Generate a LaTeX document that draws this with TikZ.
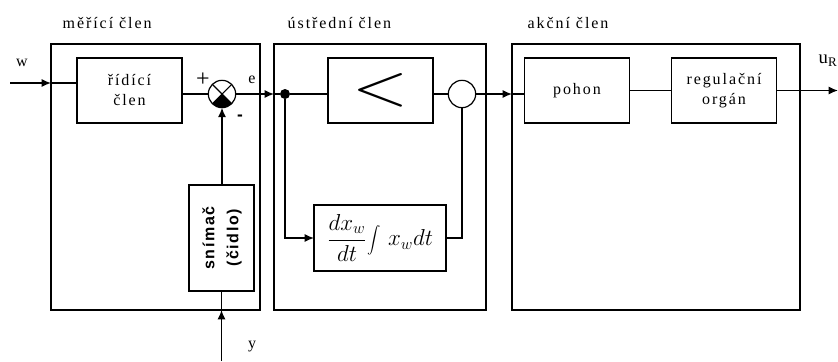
\documentclass[tikz,border=0pt]{standalone}
\usepackage{fontspec}
\setmainfont{Liberation Serif}[LetterSpace=12]
\setsansfont{Liberation Sans}[LetterSpace=10]
\usepackage{tikz}
\usetikzlibrary{arrows.meta, positioning}

\begin{document}
\begin{tikzpicture}[
    x=0.75pt, y=-0.75pt,
    frame/.style={rectangle, draw=black, line width=1.1pt, minimum height=199.5pt, inner sep=0pt, outer sep=0pt},
    box/.style={rectangle, draw=black, line width=1.1pt, minimum width=78.75pt, minimum height=48.75pt, align=center, inner sep=0pt, outer sep=0pt, font=\fontsize{12}{15}\selectfont},
    sbox/.style={rectangle, draw=black, line width=1.1pt, minimum width=48.75pt, minimum height=79.5pt, inner sep=0pt, outer sep=0pt, font=\sffamily\bfseries\fontsize{12}{18}\selectfont},
    junc/.style={circle, draw=black, line width=0.9pt, minimum size=20.5pt, inner sep=0pt, outer sep=0pt},
    dot/.style={circle, fill=black, minimum size=7.5pt, inner sep=0pt, outer sep=0pt},
    title/.style={anchor=west, inner sep=0pt, font=\fontsize{12}{14}\selectfont},
    lbl/.style={inner sep=0pt, font=\fontsize{12}{14}\selectfont},
    arrow/.style={-{Latex[length=7pt, width=6pt]}, line width=1.1pt},
    line width=1.1pt
]
\useasboundingbox (0,0) rectangle (838,361);

% the three main blocks
\node[frame, minimum width=156.75pt] (merici) at (155.5,177) {};
\node[frame, minimum width=159pt] (ustredni) at (380,177) {};
\node[frame, minimum width=216pt] (akcni) at (656,177) {};

\node[title] (tmer) at (62,23) {měřící člen};
\node[title] (tust) at (287,23) {ústřední člen};
\node[title] (takc) at (527,23) {akční člen};

% inner blocks
\node[box] (ridici) at (129.5,90.5) {řídící\\člen};
\node[junc] (sum) at (222,94) {};
\node[sbox] (snimac) at (221.5,238) {\rotatebox{90}{\begin{tabular}{@{}c@{}}snímač\\(čidlo)\end{tabular}}};

\node[dot] (uzel) at (285,94) {};
\node[box] (komp) at (380.5,90.5) {\scalebox{4.6}[3.8]{$<$}};
\node[junc] (kruh) at (462,94) {};
\node[box, minimum width=99pt, minimum height=49.5pt, font=\fontsize{17.28}{20}\selectfont] (integ) at (380,238) {$\displaystyle\frac{dx_w}{dt}\!\int\, x_w dt$};

\node[box] (pohon) at (577,90.5) {pohon};
\node[box] (organ) at (724,90.5) {regulační\\orgán};

% summing junction marks
\draw[line width=0.8pt] (sum.north west) -- (sum.south east);
\draw[line width=0.8pt] (sum.north east) -- (sum.south west);
\fill (sum.center) -- (sum.south west) arc[start angle=225, end angle=315, radius=10.25pt] -- cycle;

% labels
\node[lbl] (lw) at (22,63) {w};
\node[lbl] (le) at (252,80) {e};
\node[lbl, font=\fontsize{18}{18}\selectfont] (lplus) at (203,80) {+};
\node[lbl, font=\sffamily\bfseries\fontsize{13}{13}\selectfont] (lminus) at (240,118) {-};
\node[lbl] (ly) at (252,347) {y};
\node[lbl, anchor=west, font=\fontsize{14}{16}\selectfont] (lu) at (818,61) {u\textsubscript{R}};

% connectors
\coordinate (win) at (10,83);
\draw[arrow] (win) -- (win -| merici.west);
\draw (win -| merici.west) -- (win -| ridici.west);
\draw (ridici.east |- sum) -- (sum.west);
\draw[arrow] (sum.east) -- (sum -| ustredni.west);
\draw (sum -| ustredni.west) -- (uzel);
\draw (uzel) -- (komp.west |- uzel);
\draw (komp.east |- kruh) -- (kruh.west);
\draw[arrow] (kruh.east) -- (kruh -| akcni.west);
\draw (kruh -| akcni.west) -- (pohon.west |- kruh);
\draw[arrow] (uzel) |- (integ.west);
\draw (kruh.south) |- (integ.east);
\draw[arrow] (sum |- snimac.north) -- (sum.south);
\coordinate (yin) at (snimac.south |- 0,361);
\draw[arrow] (yin) -- (yin |- merici.south);
\draw (yin |- merici.south) -- (snimac.south);
\draw (pohon.east) -- (organ.west);
\coordinate (uout) at (838,90.5);
\draw[arrow] (organ.east) -- (uout);

\end{tikzpicture}
\end{document}
